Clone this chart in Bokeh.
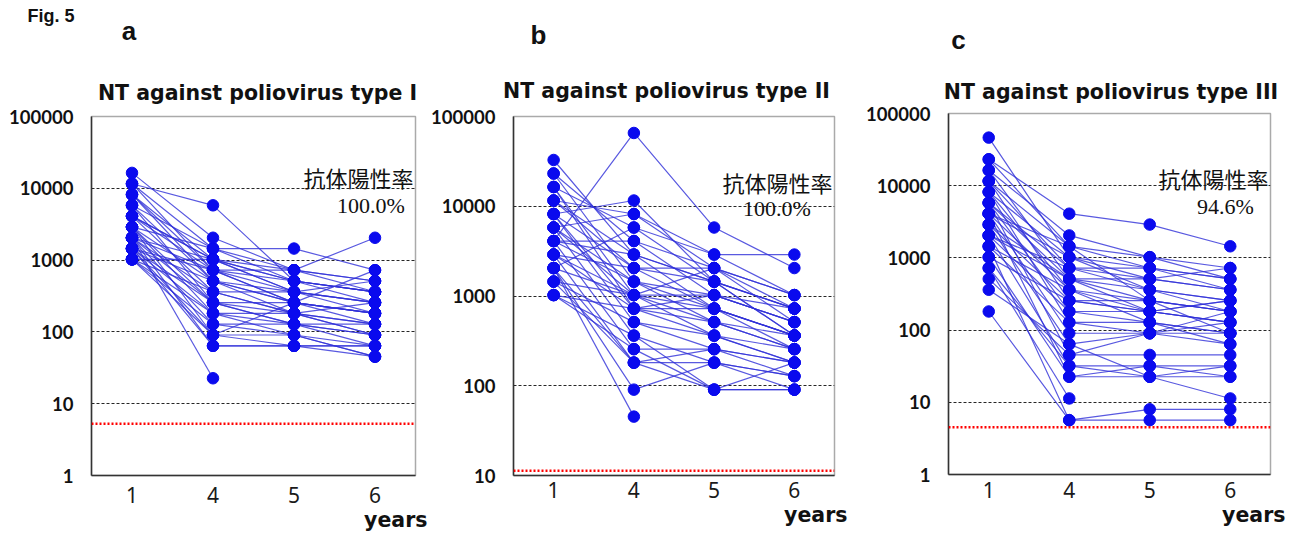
import numpy as np
from bokeh.plotting import figure
from bokeh.layouts import row, column
from bokeh.models import FixedTicker, Label, Span, NumeralTickFormatter, Range1d, Title
from bokeh.embed import file_html
from bokeh.resources import INLINE

NaN = float("nan")

# x categories (years of age)
year_labels = ["1", "4", "5", "6"]
year_pos = [1, 2, 3, 4]
y_ticks = [1, 10, 100, 1000, 10000, 100000]

# ---- Panel a: NT against poliovirus type I (titres per subject at 1, 4, 5, 6 years)
a_y1 = [16384, 11585, 11585, 8192, 8192, 5793, 5793, 4096, 4096, 4096,
        2896, 2896, 2896, 2896, 2048, 2048, 2048, 2048, 2048, 1448,
        1448, 1448, 1448, 1448, 1024, 1024, 1024, 1024, 1024, 2048,
        4096, 8192, 2896, 5793, 1448, 11585, 2048]
a_y4 = [2048, 5793, 1448, 1024, 724, 1448, 512, 1024, 724, 362,
        1448, 512, 256, 181, 1024, 724, 22.6, 362, 128, 724,
        512, 256, 90.5, 64, 1024, 362, 181, 128, 90.5, 256,
        1024, 512, 90.5, 256, 181, 724, 64]
a_y5 = [724, 512, 1448, 724, 362, 724, 256, 512, 512, 181,
        512, 362, 128, 90.5, 362, 256, NaN, 362, 128, 724,
        256, 181, 256, 64, 512, 181, 128, 90.5, 90.5, 256,
        362, 181, 64, 128, 181, 256, 64]
a_y6 = [512, 362, 724, 512, 256, 362, 181, 256, 362, 128,
        362, 256, 90.5, 64, 181, 128, NaN, 256, 90.5, 2048,
        181, 128, 181, 64, 362, 90.5, 64, 45.3, 45.3, 724,
        512, 90.5, 64, 128, 256, 181, 45.3]

# ---- Panel b: type II
b_y1 = [32768, 23170, 23170, 16384, 16384, 11585, 11585, 8192, 8192, 8192,
        5793, 5793, 5793, 4096, 4096, 4096, 4096, 4096, 2896, 2896,
        2896, 2048, 2048, 2048, 2048, 1448, 1448, 1448, 1024, 1024,
        1024, 5793, 16384, 11585, 2896, 8192, 2048]
b_y4 = [2896, 4096, 1448, 5793, 1024, 8192, 2048, 11585, 724, 512,
        8192, 1024, 362, 65536, 4096, 2896, 1448, 256, 2048, 724,
        181, 5793, 1024, 45.3, 90.5, 1024, 512, 181, 724, 256,
        362, 1448, 724, 2896, 1024, 2048, 181]
b_y5 = [1448, 2048, 724, 2896, 362, 2896, 1448, 1448, 512, 256,
        2048, 1024, 181, 5793, 1024, 724, 512, 90.5, 2048, 362,
        181, 1448, 724, NaN, 181, 512, 362, 90.5, 1024, 256,
        90.5, 1024, 724, 1448, 2048, 724, 256]
b_y6 = [724, 1024, 362, 2896, 256, 1024, 724, 724, 362, 181,
        724, 512, 128, 2048, 512, 362, 256, 90.5, 1024, 181,
        128, 362, 362, NaN, 90.5, 256, 181, 181, 512, 181,
        90.5, 724, 362, 362, 512, 256, 128]

# ---- Panel c: type III
c_y1 = [46341, 23170, 23170, 16384, 16384, 11585, 11585, 11585, 8192, 8192,
        8192, 5793, 5793, 5793, 5793, 4096, 4096, 4096, 4096, 2896,
        2896, 2896, 2048, 2048, 2048, 1448, 1448, 1448, 1024, 1024,
        724, 724, 512, 362, 181, 2048, 4096]
c_y4 = [1024, 4096, 1448, 2048, 512, 1448, 724, 256, 1024, 362,
        128, 724, 512, 181, 45.3, 1024, 362, 90.5, 22.6, 512,
        256, 64, 724, 181, 32, 362, 128, 5.66, 256, 22.6,
        32, 11.3, 45.3, 64, 5.66, 512, 1448]
c_y5 = [724, 2896, 1024, 1024, 362, 724, 512, 181, 512, 256,
        90.5, 724, 256, 128, 45.3, 362, 181, 90.5, 22.6, 512,
        256, 90.5, 362, 181, 32, 128, 128, 8, 181, 32,
        22.6, NaN, 90.5, 22.6, 5.66, 181, 256]
c_y6 = [512, 1448, 724, 512, 256, 362, 362, 128, 724, 181,
        64, 512, 181, 90.5, 45.3, 256, 256, 128, 11.3, 362,
        181, 90.5, 181, 128, 32, 64, 90.5, 8, 256, 22.6,
        22.6, NaN, 181, 32, 5.66, 128, 90.5]

titles = ["NT against poliovirus type I", "NT against poliovirus type II",
          "NT against poliovirus type III"]
panel_letters = ["a", "b", "c"]
rate_label = "抗体陽性率"
rates = ["100.0%", "100.0%", "94.6%"]
x_caption = "years"
cutoffs = [5.24, 11.3, 4.5]
y_lows = [1, 10, 1]

DOT = "#0a0aee"
LINE = "#2f2fd8"
TXT = "#111111"


def text_strip(width, height):
    """A figure whose frame is the whole strip; coordinates are pixels from its top-left."""
    f = figure(width=width, height=height, x_range=Range1d(0, width),
               y_range=Range1d(height, 0), output_backend="svg",
               toolbar_location=None, x_axis_location=None, y_axis_location=None,
               min_border=0, outline_line_color=None)
    f.xgrid.grid_line_color = None
    f.ygrid.grid_line_color = None
    f.background_fill_color = "white"
    f.border_fill_color = "white"
    return f


def put(f, text, x, y, font, size, style="normal", align="center",
        baseline="middle"):
    f.add_layout(Label(x=x, y=y, text=text, text_font=font, text_font_size=size,
                       text_font_style=style, text_align=align,
                       text_baseline=baseline, text_color=TXT))


def make_panel(i, y1, y4, y5, y6, width, head_h, bl, br, bt, bb,
               standoff_x, years_offset, lay):
    lo = y_lows[i]
    H = 535
    main_h = H - head_h

    # ---- header: panel letter + title (y in page pixels)
    head = text_strip(width, head_h)
    put(head, titles[i], lay["title"][0], lay["title"][1], "DejaVu Sans", "20.5px", "bold")
    put(head, panel_letters[i], lay["letter"][0], lay["letter"][1], "Liberation Sans",
        "26px", "bold", baseline="alphabetic")
    if "fig" in lay:
        put(head, "Fig. 5", lay["fig"][0], lay["fig"][1], "Liberation Sans", "18px",
            "bold", align="left", baseline="alphabetic")

    # ---- main plot
    p = figure(width=width, height=main_h, y_axis_type="log",
               x_range=Range1d(0.5, 4.5), y_range=Range1d(lo, 100000),
               output_backend="svg", toolbar_location=None,
               min_border_left=bl, min_border_right=br,
               min_border_top=bt, min_border_bottom=bb)
    fw = width - bl - br
    fh = main_h - bt - bb
    llo, lhi = np.log10(lo), 5.0

    def d(px, py):
        x = 0.5 + (px - bl) / fw * 4.0
        yl = lhi - (py - head_h - bt) / fh * (lhi - llo)
        return x, 10 ** yl

    p.background_fill_color = "white"
    p.border_fill_color = "white"
    p.outline_line_color = "#aaaaaa"
    p.outline_line_width = 1.5

    ticker = FixedTicker(ticks=[t for t in y_ticks if t >= lo])
    p.yaxis.ticker = ticker
    p.yaxis.formatter = NumeralTickFormatter(format="0")
    p.ygrid.ticker = ticker
    p.ygrid.grid_line_color = "#000000"
    p.ygrid.grid_line_dash = "3 2"
    p.ygrid.grid_line_width = 1
    p.ygrid.grid_line_alpha = 0.85
    p.xgrid.grid_line_color = None

    p.xaxis.ticker = FixedTicker(ticks=year_pos)
    p.xaxis.major_label_overrides = {pos: lab for pos, lab in zip(year_pos, year_labels)}

    for ax in (p.xaxis[0], p.yaxis[0]):
        ax.axis_line_color = "#333333"
        ax.axis_line_width = 1.5
        ax.major_tick_line_color = None
        ax.minor_tick_line_color = None
        ax.major_tick_out = 0
        ax.major_tick_in = 0
    p.yaxis.major_label_text_font = "Lato"
    p.yaxis.major_label_text_font_style = "bold"
    p.yaxis.major_label_text_font_size = "18.5px"
    p.yaxis.major_label_text_color = TXT
    p.yaxis.major_label_standoff = 18
    p.xaxis.major_label_text_font = "Noto Sans"
    p.xaxis.major_label_text_font_size = "21px"
    p.xaxis.major_label_text_color = "#1a1a1a"
    p.xaxis.major_label_standoff = standoff_x

    # x caption, right-aligned under the axis
    p.add_layout(Title(text=x_caption, align="right", offset=years_offset, standoff=0,
                       vertical_align="bottom", text_font="DejaVu Sans",
                       text_font_size="20.5px", text_font_style="bold",
                       text_color=TXT), "below")

    # cut-off line
    p.add_layout(Span(location=cutoffs[i], dimension="width", line_color="red",
                      line_dash="2 2", line_width=2.5))

    # subject trajectories
    xs, ys = [], []
    for k in range(len(y1)):
        xs.append(np.array(year_pos, dtype=float))
        ys.append(np.array([y1[k], y4[k], y5[k], y6[k]], dtype=float))
    p.multi_line(xs, ys, line_color=LINE, line_width=1.2, line_alpha=0.8)
    for pos, vals in zip(year_pos, (y1, y4, y5, y6)):
        v = np.array(vals, dtype=float)
        v = v[~np.isnan(v)]
        p.scatter(np.full(len(v), pos, dtype=float), v, size=11.5,
                  fill_color=DOT, line_color=DOT)

    x, y = d(*lay["rl"])
    p.add_layout(Label(x=x, y=y, text=rate_label, text_font="Noto Sans CJK JP",
                       text_font_size="22px", text_align="right",
                       text_baseline="middle", text_color=TXT))
    x, y = d(*lay["rate"])
    p.add_layout(Label(x=x, y=y, text=rates[i], text_font="Liberation Serif",
                       text_font_size="22px", text_align="center",
                       text_baseline="middle", text_color=TXT))

    # nested row keeps the header strip from being frame-aligned with the plot
    return column(row(head), p, spacing=0)


# layout positions in pixels (x local to each panel, y from top of page)
lay_a = {"title": (257, 92), "letter": (128.5, 30), "fig": (27, 15),
         "rl": (413, 176), "rate": (370.5, 205)}
lay_b = {"title": (238, 90.5), "letter": (110, 34),
         "rl": (404, 181), "rate": (348, 208)}
lay_c = {"title": (250.5, 91), "letter": (98, 39.5),
         "rl": (408, 177.5), "rate": (365, 206)}

#                                              width head  bl  br  bt  bb  sx  yoff
ca = make_panel(0, a_y1, a_y4, a_y5, a_y6, 428, 105, 91, 13, 11, 60, 11, -12, lay_a)
cb = make_panel(1, b_y1, b_y4, b_y5, b_y6, 432, 105, 82, 26, 11, 60, 6, -13, lay_b)
cc = make_panel(2, c_y1, c_y4, c_y5, c_y6, 437, 103, 88, 27, 10, 61, 7, -15, lay_c)

layout = row(ca, cb, cc, spacing=0)
open("out.html", "w").write(file_html(layout, INLINE))
